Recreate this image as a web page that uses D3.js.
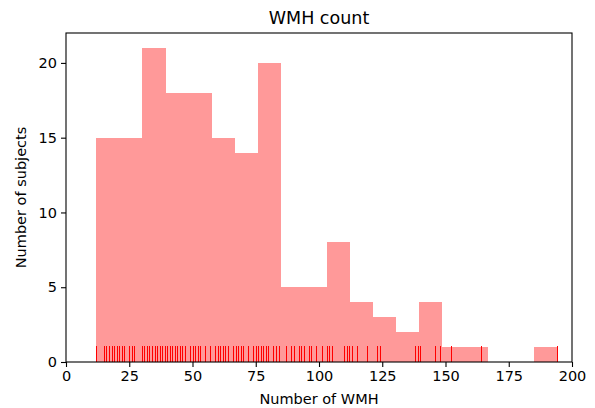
<!DOCTYPE html>
<html>
<head>
<meta charset="utf-8">
<script src="https://cdn.jsdelivr.net/npm/d3@7"></script>
<style>
  body { margin: 0; background: #fff; }
  text { font-family: "DejaVu Sans", sans-serif; }
</style>
</head>
<body>
<div id="chart"></div>
<script>
var hist = {
  width: 595,
  height: 408,
  top: 33,
  right: 23,
  bottom: 46,
  left: 66,
}

// histogram: 20 bins between min and max of the data
var binLow = 12;
var binHigh = 194;
var binCounts = [15, 15, 21, 18, 18, 15, 14, 20, 5, 5, 8, 4, 3, 2, 4, 1, 1, 0, 0, 1];

// rug: individual observed values (duplicates collapse to one tick)
var rugValues = [12, 15, 16, 17, 18, 19, 20, 21, 22, 23, 25, 26, 27, 30, 31, 32, 33, 34, 35, 36,
  37, 38, 39, 40, 41, 42, 43, 44, 45, 46, 47, 49, 50, 51, 52, 53, 55, 57, 59, 60, 61, 62, 63, 64,
  66, 67, 68, 69, 70, 72, 74, 75, 76, 77, 78, 79, 80, 82, 83, 84, 87, 89, 90, 92, 93, 94, 96, 97,
  99, 101, 103, 104, 105, 110, 111, 112, 113, 115, 119, 123, 124, 138, 139, 140, 146, 148, 152, 164, 194];

var xTicks = [0, 25, 50, 75, 100, 125, 150, 175, 200];
var yTicks = [0, 5, 10, 15, 20];

let svg = d3.select("#chart")
  .append("svg")
  .attr("width", hist.width)
  .attr("height", hist.height);

let x = d3.scaleLinear()
  .domain([0, 200])
  .range([hist.left, hist.width - hist.right]);

let y = d3.scaleLinear()
  .domain([0, 22])
  .range([hist.height - hist.bottom, hist.top]);

let binWidth = (binHigh - binLow) / binCounts.length;
let bins = binCounts.map((c, i) => ({ x0: binLow + i * binWidth, x1: binLow + (i + 1) * binWidth, count: c }));

/* bars */
svg.append("g")
  .attr("shape-rendering", "crispEdges")
  .selectAll("rect")
  .data(bins.filter(d => d.count > 0))
  .enter()
  .append("rect")
  .attr("x", d => x(d.x0))
  .attr("y", d => y(d.count))
  .attr("width", d => x(d.x1) - x(d.x0) + 0.5)
  .attr("height", d => y(0) - y(d.count))
  .style("fill", "#ff9999");

/* rug */
let rugH = (y(0) - y(22)) * 0.05;
svg.append("g")
  .attr("shape-rendering", "crispEdges")
  .selectAll("line")
  .data(rugValues)
  .enter()
  .append("line")
  .attr("x1", d => Math.round(x(d)) + 0.5)
  .attr("x2", d => Math.round(x(d)) + 0.5)
  .attr("y1", y(0))
  .attr("y2", y(0) - rugH)
  .style("stroke", "red")
  .style("stroke-width", 1);

/* axes */
let xAxis = svg.append("g")
  .attr("transform", `translate(0, ${y(0)})`)
  .call(d3.axisBottom(x).tickValues(xTicks).tickSize(5).tickPadding(4));

let yAxis = svg.append("g")
  .attr("transform", `translate(${hist.left}, 0)`)
  .call(d3.axisLeft(y).tickValues(yTicks).tickSize(5).tickPadding(4));

[xAxis, yAxis].forEach(a => {
  a.select(".domain").remove();
  a.selectAll("line").style("stroke", "#000").style("stroke-width", 1.1);
  a.selectAll("text").style("font-size", "14.5px").style("fill", "#000").style("font-family", "DejaVu Sans");
});

/* frame */
svg.append("rect")
  .attr("x", hist.left)
  .attr("y", hist.top)
  .attr("width", hist.width - hist.right - hist.left)
  .attr("height", hist.height - hist.bottom - hist.top)
  .style("fill", "none")
  .style("stroke", "#000")
  .style("stroke-width", 1.1);

/* labels */
svg.append("text")
  .attr("x", (hist.left + hist.width - hist.right) / 2)
  .attr("y", 24)
  .attr("text-anchor", "middle")
  .style("font-size", "17.5px")
  .text("WMH count");

svg.append("text")
  .attr("x", (hist.left + hist.width - hist.right) / 2)
  .attr("y", 404)
  .attr("text-anchor", "middle")
  .style("font-size", "14.5px")
  .text("Number of WMH");

svg.append("text")
  .attr("transform", `translate(26, ${(hist.top + hist.height - hist.bottom) / 2}) rotate(-90)`)
  .attr("text-anchor", "middle")
  .style("font-size", "14.5px")
  .text("Number of subjects");
</script>
</body>
</html>
